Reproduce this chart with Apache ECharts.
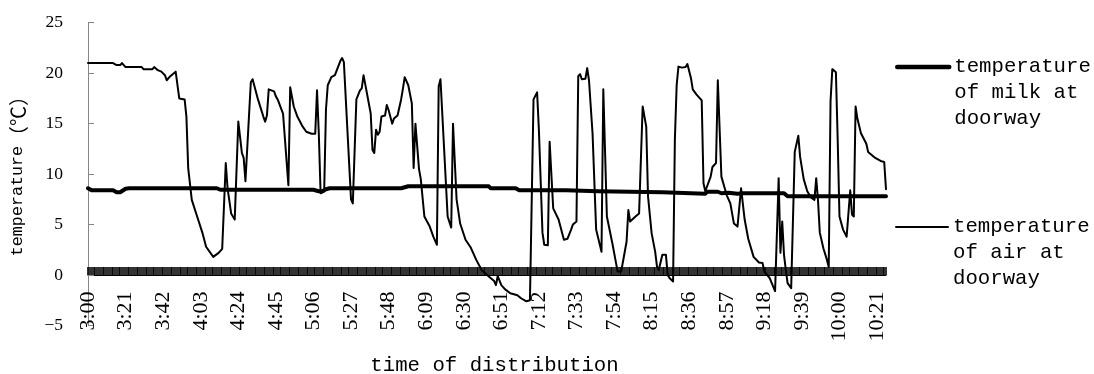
<!DOCTYPE html>
<html><head><meta charset="utf-8">
<script src="https://cdn.jsdelivr.net/npm/echarts@6/dist/echarts.min.js"></script>
<style>html,body{margin:0;padding:0;background:#fff}#c{width:1094px;height:374px}</style>
</head><body><div id="c"></div>
<script>
// series names and legend labels
const seriesNames = ['temperature of milk at doorway', 'temperature of air at doorway'];
const legendLabels = ['temperature\nof milk at\ndoorway', 'temperature\nof air at\ndoorway'];
const xAxisName = 'time of distribution';
const yAxisNameWord = 'temperature';
const yAxisNameUnit = '（℃）';

// categories: one per minute from 3:00 to 10:26
const firstMinute = 180, lastMinute = 626;
const categories = [];
for (let t = firstMinute; t <= lastMinute; t++) {
  categories.push(Math.floor(t / 60) + ':' + String(t % 60).padStart(2, '0'));
}

// milk temperature: minute offset from 3:00, value
const milkMinutes = [0, 2, 14, 16, 18, 21, 23, 72, 74, 126, 127, 129, 131, 133, 135, 175, 179, 224, 225, 239, 241, 267, 268, 285, 286, 321, 322, 345, 346, 352, 354, 358, 363, 366, 389, 391, 446];
const milkValues  = [8.6, 8.4, 8.4, 8.2, 8.2, 8.55, 8.6, 8.6, 8.45, 8.45, 8.6, 8.3, 8.3, 8.5, 8.6, 8.6, 8.8, 8.8, 8.6, 8.6, 8.4, 8.4, 8.3, 8.3, 8.2, 8.2, 8.05, 8.05, 8.25, 8.25, 8.1, 8.15, 8.05, 8.1, 8.1, 7.8, 7.8];

// air temperature: minute offset from 3:00, value
const airMinutes = [0, 14, 16, 18, 19, 21, 30, 31, 36, 37, 39, 41, 43, 44, 46, 49, 51, 54, 55, 56, 58, 61, 64, 66, 70, 73, 75, 76, 77, 78, 80, 82, 83, 84, 86, 87, 88, 91, 92, 95, 98, 99, 100, 101, 104, 105, 106, 109, 112, 113, 115, 117, 120, 122, 125, 127, 128, 129, 130, 132, 133, 134, 136, 138, 139, 141, 142, 143, 147, 148, 150, 152, 153, 154, 155, 158, 159, 160, 161, 162, 163, 164, 166, 167, 168, 170, 171, 173, 175, 176, 177, 179, 180, 181, 182, 183, 185, 186, 188, 191, 193, 195, 196, 197, 201, 203, 204, 206, 208, 211, 214, 217, 220, 224, 227, 228, 229, 231, 233, 236, 240, 242, 245, 247, 248, 249, 251, 252, 254, 255, 257, 258, 260, 263, 266, 268, 270, 271, 273, 274, 275, 276, 278, 279, 280, 282, 284, 287, 288, 290, 293, 295, 296, 298, 301, 302, 303, 306, 308, 309, 310, 312, 313, 315, 317, 318, 319, 321, 323, 324, 325, 327, 328, 329, 330, 331, 332, 334, 335, 336, 337, 338, 340, 341, 343, 344, 345, 348, 349, 351, 352, 354, 357, 359, 361, 363, 365, 367, 369, 372, 375, 377, 378, 381, 384, 386, 387, 388, 389, 390, 391, 393, 394, 395, 397, 398, 400, 402, 404, 406, 407, 408, 409, 411, 413, 414, 415, 416, 418, 419, 420, 422, 424, 425, 426, 427, 428, 429, 430, 432, 433, 435, 436, 438, 440, 443, 445, 446];
const airValues  = [21.0, 21.0, 20.8, 20.8, 21.0, 20.6, 20.6, 20.4, 20.4, 20.6, 20.3, 20.15, 19.8, 19.3, 19.7, 20.15, 17.5, 17.4, 15.7, 10.6, 7.45, 5.8, 4.15, 2.8, 1.8, 2.2, 2.6, 2.6, 11.1, 8.6, 6.1, 5.5, 5.6, 15.2, 12.1, 11.6, 9.3, 19.1, 19.4, 17.4, 15.7, 15.2, 15.8, 18.4, 18.2, 17.7, 17.4, 16.0, 8.9, 18.6, 16.7, 15.7, 14.7, 14.2, 14.0, 14.0, 18.3, 14.0, 8.1, 8.3, 16.4, 18.8, 19.6, 19.8, 19.8, 21.2, 21.5, 21.1, 7.5, 7.1, 17.4, 18.3, 18.5, 19.8, 19.7, 16.0, 12.4, 12.1, 14.4, 13.9, 14.2, 15.7, 15.8, 16.85, 16.35, 15.0, 15.5, 15.8, 17.4, 18.45, 19.6, 18.8, 18.7, 17.0, 10.6, 15.0, 10.5, 9.5, 5.8, 4.8, 3.8, 3.0, 18.7, 19.4, 5.8, 4.7, 15.0, 7.5, 5.1, 3.5, 2.7, 1.5, 0.5, -0.15, -0.6, -1.0, -0.1, -1.0, -1.4, -1.8, -2.0, -2.3, -2.6, -2.5, -2.4, 17.4, 18.1, 14.4, 4.2, 3.0, 2.95, 13.2, 6.6, 5.5, 3.5, 3.6, 4.5, 5.0, 5.3, 19.7, 19.9, 19.4, 19.45, 20.5, 19.3, 14.0, 4.5, 2.3, 18.4, 5.8, 3.2, 1.3, 0.35, 0.35, 3.3, 6.45, 5.3, 5.8, 6.1, 6.1, 16.7, 14.7, 7.8, 4.15, 2.3, 0.85, 0.5, 2.0, 2.0, 0.0, -0.3, -0.64, 13.4, 18.8, 20.65, 20.7, 20.55, 20.6, 20.9, 20.75, 19.5, 18.4, 17.9, 17.7, 17.3, 9.1, 8.3, 9.75, 10.7, 11.1, 19.3, 9.75, 7.9, 7.1, 5.1, 4.8, 8.6, 5.5, 3.6, 1.8, 1.24, 1.2, 0.35, -0.3, -1.6, 9.6, 2.2, 5.3, 2.0, 0.5, -0.8, -1.3, -1.3, 12.2, 13.8, 11.7, 9.5, 8.3, 7.7, 7.45, 9.6, 7.4, 4.2, 2.66, 1.5, 0.8, 17.2, 20.4, 20.1, 13.4, 5.8, 4.5, 3.8, 3.7, 8.4, 6.0, 5.8, 16.7, 15.5, 14.05, 13.9, 13.0, 12.2, 11.9, 11.6, 11.3, 11.2, 8.5];

const pairs = (xs, ys) => xs.map((x, i) => [x, ys[i]]);

const MONO = '"Liberation Mono", "Noto Sans CJK SC", monospace';
const SERIF = '"Liberation Serif", serif';

const chart = echarts.init(document.getElementById('c'), null, {renderer: 'canvas'});
const legendBase = {
  orient: 'vertical', left: 895, padding: 0, itemWidth: 52, itemHeight: 14,
  selectedMode: false,
  itemStyle: {color: 'rgba(0,0,0,0)', borderColor: 'rgba(0,0,0,0)', borderWidth: 0},
  textStyle: {fontFamily: MONO, fontSize: 20.7, lineHeight: 26, color: '#000'}
};
chart.setOption({
  animation: false,
  backgroundColor: '#fff',
  grid: {left: 88, right: 208, top: 22.7, bottom: 48.5, containLabel: false, outerBoundsMode: 'none'},
  legend: [
    Object.assign({}, legendBase, {data: [seriesNames[0]], top: 2, lineStyle: {width: 4.5, color: '#000'},
      formatter: () => '\n\n' + legendLabels[0]}),
    Object.assign({}, legendBase, {data: [seriesNames[1]], top: 162, lineStyle: {width: 2, color: '#000'},
      formatter: () => '\n\n' + legendLabels[1]})
  ],
  xAxis: {
    type: 'category', data: categories, boundaryGap: false,
    name: xAxisName, nameLocation: 'middle', nameGap: 29.5,
    nameTextStyle: {fontFamily: MONO, fontSize: 20.7, color: '#000', padding: [0, 0, 0, 15]},
    axisLine: {onZero: true, lineStyle: {color: '#000', width: 1}},
    axisTick: {show: true, interval: 0, inside: true, length: 8, lineStyle: {color: '#000', width: 1.6}},
    axisLabel: {interval: 20, rotate: 90, margin: -34, fontFamily: SERIF, fontSize: 22, color: '#000'},
    splitLine: {show: false}
  },
  yAxis: {
    type: 'value', min: -5, max: 25, interval: 5,
    name: '{w|' + yAxisNameWord + '}{u|' + yAxisNameUnit + '}', nameLocation: 'middle', nameGap: 60,
    nameTextStyle: {fontFamily: MONO, fontSize: 16.7, color: '#000', padding: [0, 0, 0, 6],
      rich: {
        w: {fontFamily: MONO, fontSize: 16.7, color: '#000'},
        u: {fontFamily: '"Noto Sans CJK SC", sans-serif', fontSize: 20, color: '#000'}
      }},
    axisLine: {show: true, lineStyle: {color: '#868686', width: 1}},
    axisTick: {show: true, inside: true, length: 6, lineStyle: {color: '#868686'}},
    axisLabel: {margin: 25, fontFamily: SERIF, fontSize: 17.5, color: '#000',
      formatter: v => (v < 0 ? '\u2212' + Math.abs(v) : String(v))},
    splitLine: {show: false}
  },
  series: [
    {name: seriesNames[0], type: 'line', data: pairs(milkMinutes, milkValues), symbol: 'none', showSymbol: false,
     lineStyle: {color: '#000', width: 4, cap: 'round', join: 'round'}, itemStyle: {color: '#000'}, z: 2},
    {name: seriesNames[1], type: 'line', data: pairs(airMinutes, airValues), symbol: 'none', showSymbol: false,
     lineStyle: {color: '#000', width: 2, cap: 'round', join: 'round'}, itemStyle: {color: '#000'}, z: 3}
  ]
});
</script></body></html>
